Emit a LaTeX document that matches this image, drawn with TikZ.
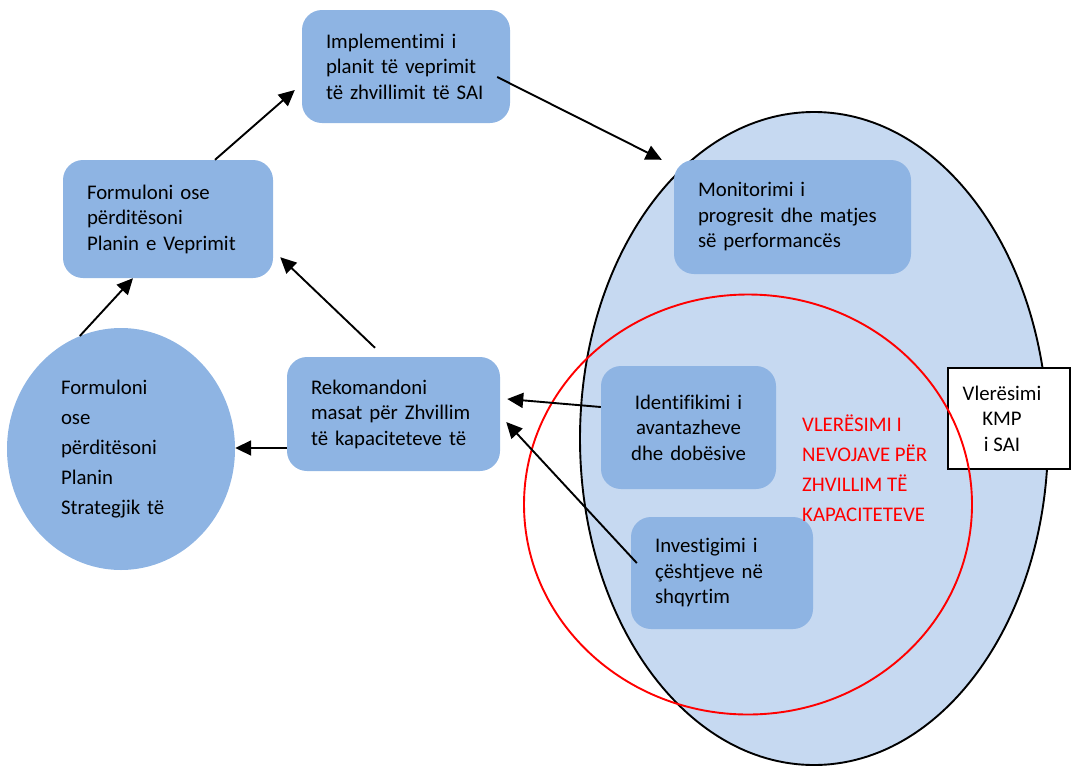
\documentclass[tikz,border=0pt]{standalone}
\usepackage{fontspec}
\setmainfont[Ligatures={NoCommon}]{Carlito}
\usetikzlibrary{shapes.geometric,arrows.meta}
\definecolor{boxblue}{HTML}{8EB4E3}
\definecolor{zoneblue}{HTML}{C6D9F1}
\begin{document}
\begin{tikzpicture}[
        x=1pt, y=-1pt,
        every node/.style={font=\fontsize{20.8}{25.5}\selectfont},
        stepbox/.style={fill=boxblue, rounded corners=20pt, align=left, inner xsep=24pt, inner ysep=0pt},
        roundbox/.style={ellipse, fill=boxblue, align=left, inner sep=0pt, text width=120pt, font=\fontsize{20.8}{30}\selectfont},
        zone/.style={ellipse, draw, line width=1.9pt, fill=zoneblue, inner sep=0pt},
        redzone/.style={ellipse, draw=red, line width=1.9pt, inner sep=0pt},
        kmpbox/.style={draw, line width=1.6pt, fill=white, minimum width=122pt, minimum height=101pt, inner sep=0pt},
        flow/.style={draw, line width=1.9pt, -{Triangle[length=16pt,width=15pt]}},
    ]
    \useasboundingbox (0,0) rectangle (1073,766);
    % assessment zone
    \node[zone, minimum width=468pt, minimum height=653pt] (zone) at (814,438.5) {};
    % steps of the cycle
    \node[stepbox, text width=160pt, minimum height=113pt] (impl) at (406,66.5) {Implementimi i\\planit të veprimit\\të zhvillimit të SAI};
    \node[stepbox, text width=162pt, minimum height=118pt] (planv) at (168,219) {Formuloni ose\\përditësoni\\Planin e Veprimit};
    \node[stepbox, text width=189pt, minimum height=114pt] (monit) at (792.5,217) {Monitorimi i\\progresit dhe matjes\\së performancës};
    \node[stepbox, align=center, text width=127pt, minimum height=123pt] (ident) at (688.5,427.5) {Identifikimi i\\avantazheve\\dhe dobësive};
    \node[stepbox, text width=134pt, minimum height=112pt] (invest) at (722,573) {Investigimi i\\çështjeve në\\shqyrtim};
    \node[stepbox, text width=165pt, minimum height=114pt] (rekom) at (393.5,414) {Rekomandoni\\masat për Zhvillim\\të kapaciteteve të};
    \node[roundbox, minimum width=228pt, minimum height=242pt] (strat) at (121,449) {Formuloni\\ose\\përditësoni\\Planin\\Strategjik të};
    % KMP box and needs assessment
    \node[kmpbox, label={[align=center, xshift=-7pt]center:{Vlerësimi\\KMP\\i SAI}}] (kmp) at (1009,418.5) {};
    \node[redzone, minimum width=448pt, minimum height=420pt] (needs) at (748,504.5) {};
    \node[anchor=north west, inner sep=0pt, text=red, align=left, font=\fontsize{20.8}{30}\selectfont] (needstext) at (802,415) {VLERËSIMI I\\NEVOJAVE PËR\\ZHVILLIM TË\\KAPACITETEVE};
    % arrows
    \draw[flow] (strat.110) -- ([xshift=-35pt]planv.south);
    \draw[flow] ([xshift=47pt]planv.north) -- ([shift={(-7pt,-23.5pt)}]impl.west);
    \draw[flow] ([shift={(-13pt,-10.5pt)}]impl.east) -- ([xshift=-12pt]monit.north west);
    \draw[flow] ([shift={(-18.5pt,9pt)}]rekom.north) -- ([shift={(7pt,21pt)}]planv.south east);
    \draw[flow] ([yshift=-34pt]rekom.west) -- ([yshift=1pt]strat.east);
    \draw[flow] ([yshift=20.5pt]ident.west) -- ([shift={(7pt,15pt)}]rekom.east);
    \draw[flow] ([shift={(6pt,10pt)}]invest.west) -- ([shift={(6pt,-8pt)}]rekom.east);
\end{tikzpicture}
\end{document}
